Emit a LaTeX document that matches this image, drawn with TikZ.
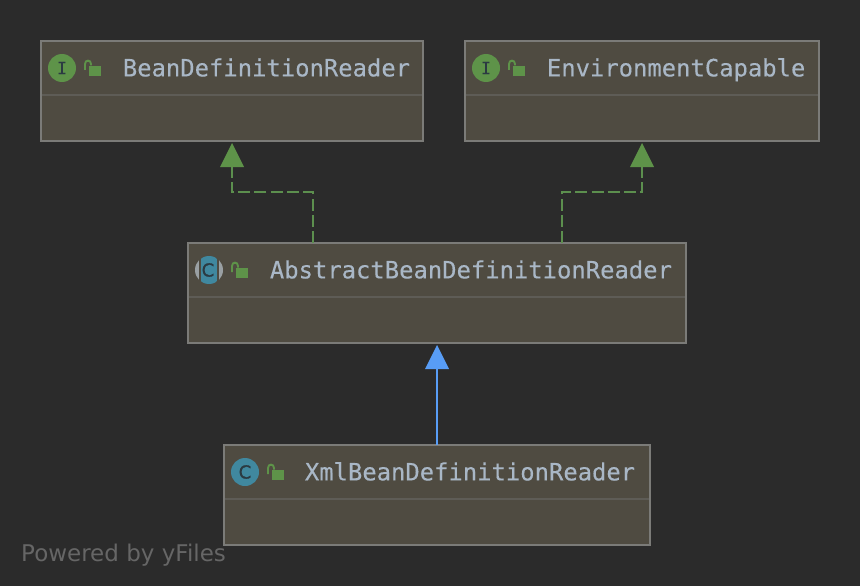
\documentclass[tikz,border=0pt]{standalone}
\usepackage{fontspec}
\usetikzlibrary{arrows.meta,calc}
\newfontfamily\monof[FakeBold=0.25]{DejaVu Sans Mono}
\newfontfamily\sansf{DejaVu Sans}
\newfontfamily\iconf[FakeBold=1]{DejaVu Sans}
\definecolor{bgc}{HTML}{2B2B2B}
\definecolor{boxfill}{HTML}{4F4B41}
\definecolor{boxline}{HTML}{7B7B78}
\definecolor{sepc}{HTML}{5E5C56}
\definecolor{namec}{HTML}{A9B7C6}
\definecolor{greenc}{HTML}{5E9349}
\definecolor{dashc}{HTML}{5C8F4E}
\definecolor{bluec}{HTML}{589DF6}
\definecolor{classc}{HTML}{40889F}
\definecolor{graysd}{HTML}{9AA0A3}
\definecolor{glyphc}{HTML}{2B3A42}
\definecolor{wmc}{HTML}{666666}
\tikzset{
  x=1pt,y=-1pt,
  classbox/.style={draw=boxline,fill=boxfill,line width=2pt,rectangle,inner sep=0pt,outer sep=0pt,minimum height=100pt},
  sepline/.style={draw=sepc,line width=1.5pt},
  nametext/.style={text=namec,font=\monof\fontsize{23.85}{28}\selectfont,anchor=base west,inner sep=0pt},
  iconI/.style={circle,fill=greenc,minimum size=28pt,inner sep=0pt,text=glyphc,font=\monof\fontsize{17}{18}\selectfont},
  iconC/.style={circle,fill=classc,minimum size=28pt,inner sep=0pt,text=glyphc,font=\iconf\fontsize{18}{18}\selectfont},
  realize/.style={draw=dashc,line width=2pt,dash pattern=on 12pt off 4.2pt},
  extend/.style={draw=bluec,line width=2pt},
  lockpic/.pic={
    \fill[greenc] (-3.5,-2) rectangle (8.5,8);
    \draw[greenc,line width=1.9pt] (-7,2) -- (-7,-4) .. controls (-7,-8.5) and (-1,-8.5) .. (-1,-4) -- (-1,-2.5);
  },
}
\begin{document}
\begin{tikzpicture}
\useasboundingbox[fill=bgc] (0,0) rectangle (860,586);

% class boxes
\node[classbox,minimum width=382pt] (bdr) at (232,91) {};
\node[classbox,minimum width=354pt] (env) at (642,91) {};
\node[classbox,minimum width=498pt] (abs) at (437,293) {};
\node[classbox,minimum width=426pt] (xml) at (437,495) {};

% separators
\draw[sepline] ($(bdr.west)+(1,4)$) -- ($(bdr.east)+(-1,4)$);
\draw[sepline] ($(env.west)+(1,4)$) -- ($(env.east)+(-1,4)$);
\draw[sepline] ($(abs.west)+(1,4)$) -- ($(abs.east)+(-1,4)$);
\draw[sepline] ($(xml.west)+(1,4)$) -- ($(xml.east)+(-1,4)$);

% icons
\node[iconI] (bdri) at (62,68) {I};
\node[iconI] (envi) at (486,68) {I};
\fill[graysd] (209,270) circle[radius=14];
\fill[boxfill] (199,255) rectangle (219,285);
\begin{scope}
  \clip (209,270) circle[radius=14];
  \fill[classc] (201,255) rectangle (217,285);
\end{scope}
\node[text=glyphc,font=\iconf\fontsize{18}{18}\selectfont,inner sep=0pt] (absi) at (208,270) {C};
\node[iconC] (xmli) at (245,472) {C};

% locks
\pic at (92,68) {lockpic};
\pic at (516,68) {lockpic};
\pic at (239,270) {lockpic};
\pic at (275,472) {lockpic};

% names
\node[nametext] (bdrn) at (122.7,76.4) {BeanDefinitionReader};
\node[nametext] (envn) at (546.7,76.4) {EnvironmentCapable};
\node[nametext] (absn) at (269.7,278.4) {AbstractBeanDefinitionReader};
\node[nametext] (xmln) at (304.7,480.4) {XmlBeanDefinitionReader};

% connectors
\coordinate (absl) at ($(abs.north west)!.25!(abs.north east)$);
\coordinate (absr) at ($(abs.north west)!.75!(abs.north east)$);
\coordinate (bdrt) at ($(bdr.south)+(0,2)$);
\coordinate (envt) at ($(env.south)+(0,2)$);
\coordinate (abst) at ($(abs.south)+(0,2)$);
\draw[realize] (absl) -- ++(0,-51) -| ($(bdrt)+(0,22)$);
\draw[realize] (absr) -- ++(0,-51) -| ($(envt)+(0,22)$);
\draw[extend] (xml.north) -- ($(abst)+(0,22)$);
\fill[greenc] (bdrt) -- ++(-12,24) -- ++(24,0) -- cycle;
\fill[greenc] (envt) -- ++(-12,24) -- ++(24,0) -- cycle;
\fill[bluec] (abst) -- ++(-12,24) -- ++(24,0) -- cycle;

% watermark
\node[anchor=base west,inner sep=0pt,text=wmc,font=\sansf\fontsize{23}{26}\selectfont] (wm) at (21,561) {Powered by yFiles};
\end{tikzpicture}
\end{document}
